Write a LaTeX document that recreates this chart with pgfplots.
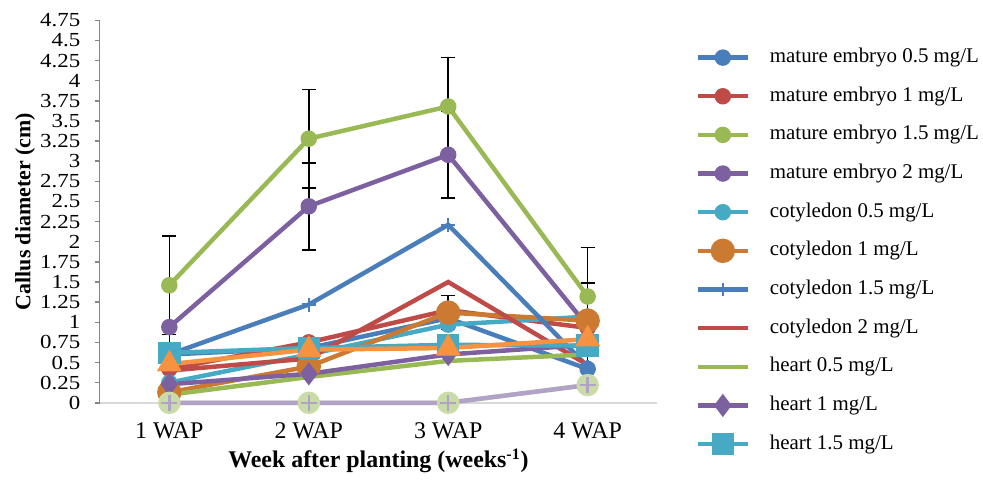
\documentclass[border=0pt]{standalone}
\usepackage{fontspec}
\setmainfont{Liberation Serif}
\newfontfamily\tickfont[FakeStretch=1.15]{Liberation Serif}
\usepackage{pgfplots}
\pgfplotsset{compat=1.18}
\definecolor{cBlue}{HTML}{4A7EBB}
\definecolor{cRed}{HTML}{BE4B48}
\definecolor{cGreen}{HTML}{98B954}
\definecolor{cPurple}{HTML}{7D60A0}
\definecolor{cAqua}{HTML}{46AAC5}
\definecolor{cOrange}{HTML}{F69240}
\definecolor{cDkOrange}{HTML}{CC7A32}
\definecolor{cLav}{HTML}{B3A2C7}
\definecolor{cLtGreen}{HTML}{C9DCA8}
\definecolor{cPink}{HTML}{E0A0A0}
\definecolor{axgray}{HTML}{868686}
\definecolor{axlight}{HTML}{D9D9D9}
\begin{document}
\begin{tikzpicture}
\begin{axis}[
  scale only axis, width=280pt, height=192pt,
  xmin=0, xmax=4, ymin=0, ymax=4.75,
  axis x line=bottom, axis y line=left,
  x axis line style={axlight, line width=1pt, -},
  y axis line style={axgray, line width=0.75pt, -},
  ytick={0,0.25,0.5,0.75,1,1.25,1.5,1.75,2,2.25,2.5,2.75,3,3.25,3.5,3.75,4,4.25,4.5,4.75},
  yticklabels={0,0.25,0.5,0.75,1,1.25,1.5,1.75,2,2.25,2.5,2.75,3,3.25,3.5,3.75,4,4.25,4.5,4.75},
  ytick style={axgray, line width=0.75pt},
  tick align=outside, major tick length=2.5pt,
  xtick={0.5,1.5,2.5,3.5}, xticklabels={1 WAP,2 WAP,3 WAP,4 WAP},
  x tick style={draw=none},
  /pgf/number format/assume math mode=true,
  xticklabel style={font=\fontsize{12}{12}\selectfont, yshift=-4pt},
  yticklabel style={font=\tickfont\fontsize{10}{10}\selectfont, inner sep=1pt, xshift=-6pt},
  ylabel={\textbf{Callus diameter (cm)}},
  ylabel style={font=\fontsize{11}{11}\selectfont, yshift=-2pt},
  xlabel={\textbf{Week after planting (weeks\textsuperscript{-1})}},
  xlabel style={font=\fontsize{12}{12}\selectfont, yshift=2pt},
  clip=false,
  every axis plot/.append style={line width=2.25pt},
  error bars/error bar style={black, line width=0.8pt},
  error bars/error mark options={rotate=90, black, mark size=3.5pt, line width=0.8pt},
  legend style={draw=none, fill=none, at={(1.068,0.94)}, anchor=north west,
    font=\fontsize{10.5}{10.5}\selectfont, row sep=5.4pt, inner sep=0pt,
    nodes={text height=7.5pt, text depth=2.5pt, inner sep=2pt}},
  legend cell align=left,
  legend image code/.code={\draw[mark repeat=2, mark phase=2] plot coordinates {(0pt,0pt)(12.5pt,0pt)(25pt,0pt)};},
  /tikz/every odd column/.append style={column sep=8pt},
]
% mature embryo 0.5
\addplot[cBlue, mark=*, mark size=3pt] coordinates {(0.5,0.60) (1.5,0.68) (2.5,1.05) (3.5,0.42)};
\addlegendentry{mature embryo 0.5 mg/L}
% mature embryo 1
\addplot[cRed, mark=*, mark size=3pt] coordinates {(0.5,0.42) (1.5,0.75) (2.5,1.15) (3.5,0.93)};
\addlegendentry{mature embryo 1 mg/L}
% mature embryo 1.5
\addplot[cGreen, mark=*, mark size=3pt, error bars/.cd, y dir=both, y explicit] coordinates {(0.5,1.46) +- (0,0.61) (1.5,3.28) +- (0,0.61) (2.5,3.68) +- (0,0.61) (3.5,1.32) +- (0,0.61)};
\addlegendentry{mature embryo 1.5 mg/L}
% mature embryo 2
\addplot[cPurple, mark=*, mark size=3pt, error bars/.cd, y dir=both, y explicit] coordinates {(0.5,0.94) +- (0,0.54) (1.5,2.44) +- (0,0.54) (2.5,3.08) +- (0,0.54) (3.5,0.95) +- (0,0.54)};
\addlegendentry{mature embryo 2 mg/L}
% cotyledon 0.5
\addplot[cAqua, mark=*, mark size=3pt] coordinates {(0.5,0.25) (1.5,0.60) (2.5,0.97) (3.5,1.07)};
\addlegendentry{cotyledon 0.5 mg/L}
% cotyledon 1
\addplot[cDkOrange, mark=*, mark size=5pt] coordinates {(0.5,0.13) (1.5,0.45) (2.5,1.12) (3.5,1.02)};
\addlegendentry{cotyledon 1 mg/L}
% cotyledon 1.5
\addplot[cBlue, mark=+, mark size=3.5pt, mark options={line width=1.2pt}] coordinates {(0.5,0.60) (1.5,1.22) (2.5,2.21) (3.5,0.45)};
\addlegendentry{cotyledon 1.5 mg/L}
% cotyledon 2
\addplot[cRed, mark=none] coordinates {(0.5,0.40) (1.5,0.55) (2.5,1.50) (3.5,0.47)};
\addlegendentry{cotyledon 2 mg/L}
% heart 0.5
\addplot[cGreen, mark=none] coordinates {(0.5,0.10) (1.5,0.32) (2.5,0.52) (3.5,0.60)};
\addlegendentry{heart 0.5 mg/L}
% heart 1
\addplot[cPurple, mark=diamond*, mark size=4pt] coordinates {(0.5,0.23) (1.5,0.36) (2.5,0.60) (3.5,0.72)};
\addlegendentry{heart 1 mg/L}
% heart 1.5
\addplot[cAqua, mark=square*, mark size=4.5pt] coordinates {(0.5,0.62) (1.5,0.68) (2.5,0.72) (3.5,0.71)};
\addlegendentry{heart 1.5 mg/L}
% heart 2 (not shown in legend)
\addplot[cOrange, mark=triangle*, mark size=5pt, forget plot] coordinates {(0.5,0.48) (1.5,0.66) (2.5,0.68) (3.5,0.79)};
% extra error bars
\addplot[draw=none, mark=none, forget plot, error bars/.cd, y dir=both, y explicit] coordinates {(2.5,1.12) +- (0,0.21) (1.5,0.75) +- (0,0.06)};
% zero series
\addplot[cPink, draw=none, mark=x, mark size=4.5pt, mark options={line width=0.8pt}, forget plot] coordinates {(0.5,0) (1.5,0) (2.5,0) (3.5,0.22)};
\addplot[cLtGreen, mark=*, mark size=4.5pt, forget plot] coordinates {(0.5,0) (1.5,0) (2.5,0) (3.5,0.22)};
\addplot[cLav, mark=+, mark size=4pt, mark options={line width=1.2pt}, forget plot] coordinates {(0.5,0) (1.5,0) (2.5,0) (3.5,0.22)};
\end{axis}
\useasboundingbox (current axis.south west) ++(-50pt,-35.3pt) rectangle ([shift={(441.5pt,202.2pt)}]current axis.south west);
\end{tikzpicture}
\end{document}
